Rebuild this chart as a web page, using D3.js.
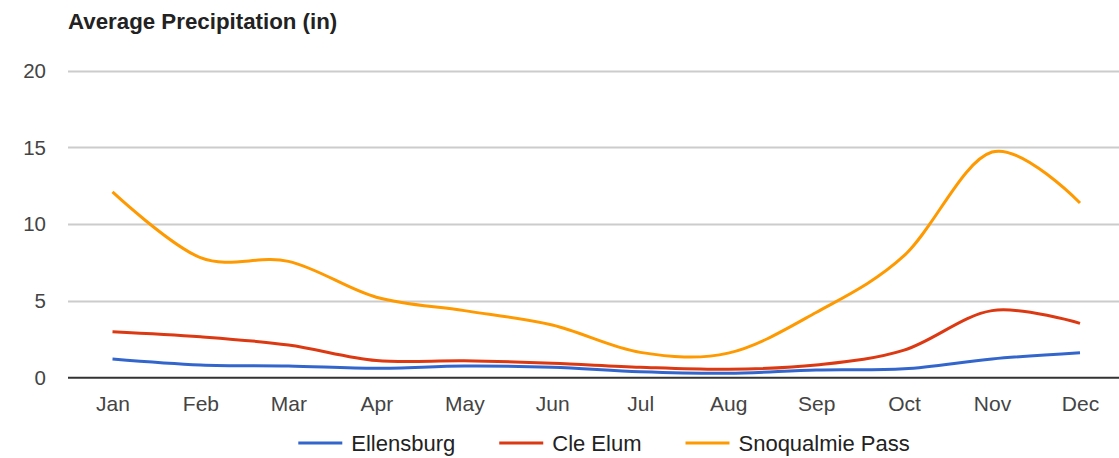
<!DOCTYPE html>
<html>
<head>
<meta charset="utf-8">
<script src="https://cdn.jsdelivr.net/npm/d3@7"></script>
<style>
  html, body { margin: 0; padding: 0; background: #fff; }
  svg { display: block; font-family: "Liberation Sans", Arial, sans-serif; }
</style>
</head>
<body>
<svg id="chart" width="1119" height="458"></svg>
<script>
// Monthly average precipitation, inches
const months = ["Jan", "Feb", "Mar", "Apr", "May", "Jun", "Jul", "Aug", "Sep", "Oct", "Nov", "Dec"];
const seriesNames = ["Ellensburg", "Cle Elum", "Snoqualmie Pass"];
const ellensburg = [1.22, 0.83, 0.76, 0.61, 0.76, 0.68, 0.39, 0.29, 0.50, 0.58, 1.22, 1.63];
const cleElum = [3.00, 2.67, 2.13, 1.12, 1.10, 0.94, 0.68, 0.55, 0.83, 1.80, 4.37, 3.54];
const snoqualmie = [12.1, 7.82, 7.58, 5.24, 4.37, 3.43, 1.65, 1.60, 4.25, 7.95, 14.70, 11.38];
const yTicks = [0, 5, 10, 15, 20];
const colors = ["#3366cc", "#dc3912", "#ff9900"];

const svg = d3.select("#chart");
const plotLeft = 68, plotRight = 1119, plotTop = 70.7, plotBottom = 377.7;

const x = d3.scalePoint().domain(months).range([112.5, 1080]);
const y = d3.scaleLinear().domain([0, 20]).range([plotBottom, plotTop]);

// Title
svg.append("text")
  .attr("x", 68).attr("y", 29)
  .attr("font-size", 22.3).attr("font-weight", "bold").attr("fill", "#222")
  .text("Average Precipitation (in)");

// Horizontal gridlines
svg.append("g").selectAll("line")
  .data(yTicks.filter(d => d !== 0))
  .join("line")
  .attr("x1", plotLeft).attr("x2", plotRight)
  .attr("y1", d => Math.round(y(d)) + 0.5).attr("y2", d => Math.round(y(d)) + 0.5)
  .attr("stroke", "#cccccc").attr("stroke-width", 2);

// Y axis tick labels
const yAxis = d3.axisLeft(y).tickValues(yTicks).tickSize(0).tickPadding(0);
const yg = svg.append("g").attr("transform", "translate(46,0)").call(yAxis);
yg.select(".domain").remove();
yg.selectAll("text").attr("font-size", 20.5).attr("fill", "#444").attr("font-family", "inherit");

// X axis labels
const xAxis = d3.axisBottom(x).tickSize(0).tickPadding(0);
const xg = svg.append("g").attr("transform", "translate(0,396)").call(xAxis);
xg.select(".domain").remove();
xg.selectAll("text").attr("font-size", 21).attr("fill", "#444").attr("font-family", "inherit");

// Series lines
const line = d3.line()
  .x((d, i) => x(months[i]))
  .y(d => y(d))
  .curve(d3.curveCardinal.tension(0));

const allSeries = [ellensburg, cleElum, snoqualmie];
svg.append("g").selectAll("path")
  .data(allSeries.map((v, i) => ({ values: v, color: colors[i] })).reverse())
  .join("path")
  .attr("d", d => line(d.values))
  .attr("fill", "none")
  .attr("stroke", d => d.color)
  .attr("stroke-width", 3)
  .attr("stroke-linejoin", "round");

// Baseline
svg.append("line")
  .attr("x1", plotLeft).attr("x2", plotRight)
  .attr("y1", plotBottom).attr("y2", plotBottom)
  .attr("stroke", "#333").attr("stroke-width", 2);

// Legend
const legend = svg.append("g");
const items = legend.selectAll("g").data(seriesNames).join("g");
items.append("line")
  .attr("x1", 0).attr("x2", 44).attr("y1", 0).attr("y2", 0)
  .attr("stroke", (d, i) => colors[i]).attr("stroke-width", 3);
items.append("text")
  .attr("x", 53).attr("y", 7.5)
  .attr("font-size", 22).attr("fill", "#222")
  .text(d => d);
let offset = 0;
const gap = 44;
items.each(function() {
  const w = 53 + d3.select(this).select("text").node().getComputedTextLength();
  d3.select(this).attr("transform", `translate(${offset},0)`);
  offset += w + gap;
});
const total = offset - gap;
legend.attr("transform", `translate(${604 - total / 2},443)`);
</script>
</body>
</html>
